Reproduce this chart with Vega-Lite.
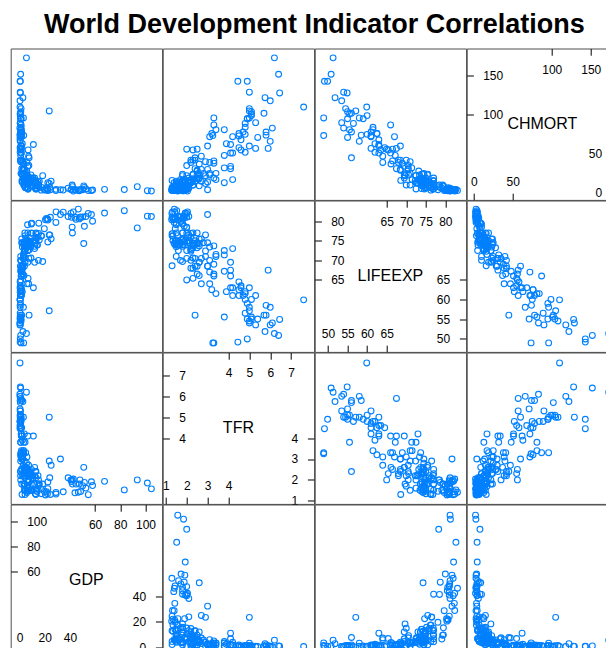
{
"$schema": "https://vega.github.io/schema/vega-lite/v6.json",
"padding": {"left": 9.7, "top": 10.5, "right": -9.5, "bottom": -4},
"title": {"text": "World Development Indicator Correlations", "anchor": "middle", "fontSize": 27, "font": "Liberation Sans", "fontWeight": "bold", "color": "#000", "offset": 8.5},
"config": {
  "view": {"stroke": "#4d4d4d", "strokeWidth": 1},
  "axis": {"labelFont": "Liberation Sans", "labelFontSize": 12, "labelColor": "#000", "tickColor": "#000", "tickWidth": 1, "domain": false, "grid": false, "labelFlush": false, "labelOverlap": false, "labelBound": false, "ticks": true, "title": null}
},
"datasets": {"wdi": [
{"country":"Angola","GDP":5.5,"TFR":6.2,"LIFEEXP":51.3,"CHMORT":173},
{"country":"Benin","GDP":0.8,"TFR":4.9,"LIFEEXP":59.0,"CHMORT":95},
{"country":"Botswana","GDP":7.2,"TFR":2.7,"LIFEEXP":64.0,"CHMORT":47},
{"country":"Burkina Faso","GDP":0.65,"TFR":5.7,"LIFEEXP":56.0,"CHMORT":102},
{"country":"Burundi","GDP":0.25,"TFR":6.1,"LIFEEXP":54.0,"CHMORT":83},
{"country":"Cameroon","GDP":1.2,"TFR":4.9,"LIFEEXP":55.0,"CHMORT":95},
{"country":"Cape Verde","GDP":3.5,"TFR":2.3,"LIFEEXP":74.0,"CHMORT":24},
{"country":"Central African Republic","GDP":0.5,"TFR":4.45,"LIFEEXP":49.1,"CHMORT":143},
{"country":"Chad","GDP":0.9,"TFR":6.4,"LIFEEXP":50.8,"CHMORT":152},
{"country":"Comoros","GDP":0.8,"TFR":4.7,"LIFEEXP":61.0,"CHMORT":78},
{"country":"Congo, Dem. Rep.","GDP":0.4,"TFR":6.0,"LIFEEXP":53.5,"CHMORT":118},
{"country":"Congo, Rep.","GDP":3.1,"TFR":5.0,"LIFEEXP":58.0,"CHMORT":96},
{"country":"Cote d'Ivoire","GDP":1.25,"TFR":5.0,"LIFEEXP":54.5,"CHMORT":108},
{"country":"Djibouti","GDP":1.5,"TFR":3.4,"LIFEEXP":61.5,"CHMORT":81},
{"country":"Equatorial Guinea","GDP":23.6,"TFR":5.0,"LIFEEXP":57.1,"CHMORT":105},
{"country":"Eritrea","GDP":0.5,"TFR":4.8,"LIFEEXP":62.0,"CHMORT":52},
{"country":"Ethiopia","GDP":0.45,"TFR":4.6,"LIFEEXP":63.0,"CHMORT":68},
{"country":"Gabon","GDP":11.0,"TFR":4.1,"LIFEEXP":63.0,"CHMORT":62},
{"country":"Gambia","GDP":0.5,"TFR":5.8,"LIFEEXP":58.5,"CHMORT":74},
{"country":"Ghana","GDP":1.6,"TFR":4.2,"LIFEEXP":61.0,"CHMORT":72},
{"country":"Guinea","GDP":0.5,"TFR":5.1,"LIFEEXP":55.5,"CHMORT":101},
{"country":"Guinea-Bissau","GDP":0.55,"TFR":5.0,"LIFEEXP":54.0,"CHMORT":129},
{"country":"Kenya","GDP":1.1,"TFR":4.5,"LIFEEXP":61.0,"CHMORT":73},
{"country":"Lesotho","GDP":1.2,"TFR":3.3,"LIFEEXP":48.9,"CHMORT":96},
{"country":"Liberia","GDP":0.4,"TFR":4.8,"LIFEEXP":60.0,"CHMORT":75},
{"country":"Madagascar","GDP":0.45,"TFR":4.5,"LIFEEXP":64.5,"CHMORT":58},
{"country":"Malawi","GDP":0.45,"TFR":5.4,"LIFEEXP":55.0,"CHMORT":71},
{"country":"Mali","GDP":0.7,"TFR":6.45,"LIFEEXP":54.9,"CHMORT":128},
{"country":"Mauritania","GDP":1.2,"TFR":4.8,"LIFEEXP":61.5,"CHMORT":84},
{"country":"Mauritius","GDP":9.0,"TFR":1.5,"LIFEEXP":73.5,"CHMORT":15},
{"country":"Mozambique","GDP":0.57,"TFR":5.3,"LIFEEXP":53.5,"CHMORT":90},
{"country":"Namibia","GDP":5.9,"TFR":3.1,"LIFEEXP":64.0,"CHMORT":39},
{"country":"Niger","GDP":0.4,"TFR":7.6,"LIFEEXP":59.9,"CHMORT":110},
{"country":"Nigeria","GDP":2.7,"TFR":5.75,"LIFEEXP":51.8,"CHMORT":122},
{"country":"Rwanda","GDP":0.62,"TFR":4.6,"LIFEEXP":63.5,"CHMORT":55},
{"country":"Sao Tome and Principe","GDP":1.4,"TFR":4.1,"LIFEEXP":66.0,"CHMORT":51},
{"country":"Senegal","GDP":1.05,"TFR":5.0,"LIFEEXP":63.0,"CHMORT":60},
{"country":"Seychelles","GDP":12.0,"TFR":2.2,"LIFEEXP":73.0,"CHMORT":13},
{"country":"Sierra Leone","GDP":0.6,"TFR":4.9,"LIFEEXP":49.9,"CHMORT":143},
{"country":"South Africa","GDP":7.6,"TFR":2.4,"LIFEEXP":56.0,"CHMORT":45},
{"country":"South Sudan","GDP":1.0,"TFR":5.1,"LIFEEXP":55.0,"CHMORT":104},
{"country":"Sudan","GDP":1.7,"TFR":4.5,"LIFEEXP":62.5,"CHMORT":76},
{"country":"Swaziland","GDP":3.3,"TFR":3.25,"LIFEEXP":48.9,"CHMORT":73.5},
{"country":"Tanzania","GDP":0.7,"TFR":5.3,"LIFEEXP":61.0,"CHMORT":57},
{"country":"Togo","GDP":0.55,"TFR":4.8,"LIFEEXP":56.5,"CHMORT":89},
{"country":"Uganda","GDP":0.6,"TFR":6.0,"LIFEEXP":58.0,"CHMORT":66},
{"country":"Zambia","GDP":1.7,"TFR":5.8,"LIFEEXP":56.0,"CHMORT":78},
{"country":"Zimbabwe","GDP":0.9,"TFR":3.8,"LIFEEXP":55.5,"CHMORT":81},
{"country":"Afghanistan","GDP":0.65,"TFR":5.1,"LIFEEXP":60.0,"CHMORT":99},
{"country":"Bangladesh","GDP":0.85,"TFR":2.2,"LIFEEXP":70.0,"CHMORT":42},
{"country":"Bhutan","GDP":2.5,"TFR":2.2,"LIFEEXP":68.0,"CHMORT":39},
{"country":"Cambodia","GDP":0.95,"TFR":2.9,"LIFEEXP":71.0,"CHMORT":40},
{"country":"China","GDP":6.1,"TFR":1.6,"LIFEEXP":75.0,"CHMORT":14},
{"country":"India","GDP":1.45,"TFR":2.5,"LIFEEXP":66.5,"CHMORT":56},
{"country":"Indonesia","GDP":3.7,"TFR":2.4,"LIFEEXP":70.5,"CHMORT":31},
{"country":"Japan","GDP":46.7,"TFR":1.41,"LIFEEXP":83.1,"CHMORT":3},
{"country":"Korea, Rep.","GDP":24.5,"TFR":1.3,"LIFEEXP":81.0,"CHMORT":4},
{"country":"Lao PDR","GDP":1.4,"TFR":3.1,"LIFEEXP":67.0,"CHMORT":72},
{"country":"Malaysia","GDP":10.4,"TFR":2.0,"LIFEEXP":74.8,"CHMORT":8.5},
{"country":"Maldives","GDP":6.6,"TFR":2.3,"LIFEEXP":77.0,"CHMORT":10},
{"country":"Mongolia","GDP":3.9,"TFR":2.5,"LIFEEXP":68.5,"CHMORT":29},
{"country":"Myanmar","GDP":1.0,"TFR":2.0,"LIFEEXP":65.0,"CHMORT":56},
{"country":"Nepal","GDP":0.7,"TFR":2.4,"LIFEEXP":68.5,"CHMORT":42},
{"country":"Pakistan","GDP":1.3,"TFR":3.3,"LIFEEXP":66.0,"CHMORT":87},
{"country":"Philippines","GDP":2.6,"TFR":3.0,"LIFEEXP":68.5,"CHMORT":30},
{"country":"Singapore","GDP":54.6,"TFR":1.29,"LIFEEXP":82.0,"CHMORT":2.9},
{"country":"Sri Lanka","GDP":3.35,"TFR":2.3,"LIFEEXP":74.3,"CHMORT":10},
{"country":"Thailand","GDP":5.9,"TFR":1.4,"LIFEEXP":74.3,"CHMORT":13},
{"country":"Timor-Leste","GDP":1.1,"TFR":5.9,"LIFEEXP":67.5,"CHMORT":57},
{"country":"Vietnam","GDP":1.75,"TFR":1.8,"LIFEEXP":75.5,"CHMORT":24},
{"country":"Brunei","GDP":41.8,"TFR":2.0,"LIFEEXP":78.5,"CHMORT":10},
{"country":"Papua New Guinea","GDP":2.2,"TFR":3.9,"LIFEEXP":62.0,"CHMORT":63},
{"country":"Fiji","GDP":4.4,"TFR":2.6,"LIFEEXP":69.5,"CHMORT":23},
{"country":"Solomon Islands","GDP":1.8,"TFR":4.1,"LIFEEXP":67.5,"CHMORT":31},
{"country":"Vanuatu","GDP":3.1,"TFR":3.4,"LIFEEXP":71.5,"CHMORT":17},
{"country":"Samoa","GDP":3.8,"TFR":4.2,"LIFEEXP":73.0,"CHMORT":17},
{"country":"Tonga","GDP":4.4,"TFR":3.8,"LIFEEXP":72.5,"CHMORT":13},
{"country":"Kiribati","GDP":1.7,"TFR":3.0,"LIFEEXP":68.5,"CHMORT":60},
{"country":"Micronesia","GDP":3.1,"TFR":3.3,"LIFEEXP":69.0,"CHMORT":38},
{"country":"Australia","GDP":67.5,"TFR":1.93,"LIFEEXP":82.1,"CHMORT":4.5},
{"country":"New Zealand","GDP":38.6,"TFR":2.1,"LIFEEXP":81.2,"CHMORT":6},
{"country":"Algeria","GDP":5.6,"TFR":2.8,"LIFEEXP":74.5,"CHMORT":25},
{"country":"Bahrain","GDP":24.0,"TFR":2.1,"LIFEEXP":76.5,"CHMORT":7},
{"country":"Egypt","GDP":3.2,"TFR":3.4,"LIFEEXP":71.0,"CHMORT":25},
{"country":"Iran","GDP":7.0,"TFR":1.9,"LIFEEXP":74.0,"CHMORT":17},
{"country":"Iraq","GDP":6.6,"TFR":4.1,"LIFEEXP":69.5,"CHMORT":34},
{"country":"Israel","GDP":32.5,"TFR":3.0,"LIFEEXP":81.7,"CHMORT":4},
{"country":"Jordan","GDP":4.9,"TFR":3.3,"LIFEEXP":73.7,"CHMORT":19},
{"country":"Kuwait","GDP":51.0,"TFR":2.6,"LIFEEXP":74.3,"CHMORT":9},
{"country":"Lebanon","GDP":9.7,"TFR":1.5,"LIFEEXP":79.5,"CHMORT":9},
{"country":"Libya","GDP":13.0,"TFR":2.4,"LIFEEXP":75.0,"CHMORT":15},
{"country":"Morocco","GDP":2.9,"TFR":2.7,"LIFEEXP":70.5,"CHMORT":30},
{"country":"Oman","GDP":23.6,"TFR":2.9,"LIFEEXP":76.5,"CHMORT":12},
{"country":"Qatar","GDP":93.5,"TFR":2.0,"LIFEEXP":78.3,"CHMORT":8},
{"country":"Saudi Arabia","GDP":25.1,"TFR":2.7,"LIFEEXP":75.5,"CHMORT":15},
{"country":"Syria","GDP":2.0,"TFR":3.0,"LIFEEXP":74.5,"CHMORT":14},
{"country":"Tunisia","GDP":4.2,"TFR":2.1,"LIFEEXP":74.5,"CHMORT":16},
{"country":"Turkey","GDP":10.6,"TFR":2.1,"LIFEEXP":75.0,"CHMORT":19},
{"country":"United Arab Emirates","GDP":42.0,"TFR":1.8,"LIFEEXP":77.0,"CHMORT":8},
{"country":"Yemen","GDP":1.3,"TFR":4.2,"LIFEEXP":63.0,"CHMORT":51},
{"country":"Albania","GDP":4.2,"TFR":1.8,"LIFEEXP":77.0,"CHMORT":15},
{"country":"Armenia","GDP":3.7,"TFR":1.7,"LIFEEXP":74.3,"CHMORT":17},
{"country":"Austria","GDP":48.5,"TFR":1.44,"LIFEEXP":81.0,"CHMORT":4},
{"country":"Azerbaijan","GDP":7.4,"TFR":2.0,"LIFEEXP":70.5,"CHMORT":35},
{"country":"Belarus","GDP":6.9,"TFR":1.6,"LIFEEXP":72.5,"CHMORT":5},
{"country":"Belgium","GDP":44.8,"TFR":1.8,"LIFEEXP":80.5,"CHMORT":4},
{"country":"Bosnia and Herzegovina","GDP":4.4,"TFR":1.3,"LIFEEXP":76.3,"CHMORT":7},
{"country":"Bulgaria","GDP":7.3,"TFR":1.5,"LIFEEXP":74.3,"CHMORT":12},
{"country":"Croatia","GDP":13.2,"TFR":1.5,"LIFEEXP":77.0,"CHMORT":5},
{"country":"Cyprus","GDP":28.9,"TFR":1.4,"LIFEEXP":79.7,"CHMORT":3},
{"country":"Czech Republic","GDP":19.7,"TFR":1.45,"LIFEEXP":78.1,"CHMORT":4},
{"country":"Denmark","GDP":58.0,"TFR":1.73,"LIFEEXP":80.0,"CHMORT":3.7},
{"country":"Estonia","GDP":17.3,"TFR":1.56,"LIFEEXP":76.3,"CHMORT":3.5},
{"country":"Finland","GDP":47.4,"TFR":1.8,"LIFEEXP":80.6,"CHMORT":2.8},
{"country":"France","GDP":40.8,"TFR":2.0,"LIFEEXP":82.0,"CHMORT":4.2},
{"country":"Georgia","GDP":3.5,"TFR":1.8,"LIFEEXP":74.0,"CHMORT":13},
{"country":"Germany","GDP":44.0,"TFR":1.38,"LIFEEXP":81.0,"CHMORT":4},
{"country":"Greece","GDP":22.2,"TFR":1.34,"LIFEEXP":80.6,"CHMORT":4.6},
{"country":"Hungary","GDP":12.6,"TFR":1.34,"LIFEEXP":75.0,"CHMORT":6},
{"country":"Iceland","GDP":42.7,"TFR":2.04,"LIFEEXP":82.4,"CHMORT":2.3},
{"country":"Ireland","GDP":48.0,"TFR":2.0,"LIFEEXP":81.0,"CHMORT":4.2},
{"country":"Italy","GDP":34.7,"TFR":1.43,"LIFEEXP":82.3,"CHMORT":3.6},
{"country":"Kazakhstan","GDP":12.0,"TFR":2.6,"LIFEEXP":69.5,"CHMORT":19},
{"country":"Kyrgyz Republic","GDP":1.2,"TFR":3.1,"LIFEEXP":70.0,"CHMORT":25},
{"country":"Latvia","GDP":14.0,"TFR":1.44,"LIFEEXP":74.0,"CHMORT":9},
{"country":"Lithuania","GDP":14.2,"TFR":1.6,"LIFEEXP":73.9,"CHMORT":5.5},
{"country":"Luxembourg","GDP":104.7,"TFR":1.57,"LIFEEXP":81.2,"CHMORT":2.3},
{"country":"Macedonia","GDP":4.7,"TFR":1.5,"LIFEEXP":75.0,"CHMORT":7},
{"country":"Malta","GDP":21.4,"TFR":1.43,"LIFEEXP":80.7,"CHMORT":6.5},
{"country":"Moldova","GDP":2.0,"TFR":1.3,"LIFEEXP":68.6,"CHMORT":16},
{"country":"Montenegro","GDP":6.6,"TFR":1.7,"LIFEEXP":74.6,"CHMORT":5},
{"country":"Netherlands","GDP":50.1,"TFR":1.72,"LIFEEXP":81.1,"CHMORT":4},
{"country":"Norway","GDP":101.5,"TFR":1.85,"LIFEEXP":81.3,"CHMORT":2.8},
{"country":"Poland","GDP":13.0,"TFR":1.3,"LIFEEXP":76.8,"CHMORT":5},
{"country":"Portugal","GDP":20.6,"TFR":1.28,"LIFEEXP":80.4,"CHMORT":3.7},
{"country":"Romania","GDP":8.4,"TFR":1.5,"LIFEEXP":74.5,"CHMORT":12},
{"country":"Russian Federation","GDP":15.0,"TFR":1.7,"LIFEEXP":70.0,"CHMORT":10},
{"country":"Serbia","GDP":5.7,"TFR":1.45,"LIFEEXP":74.9,"CHMORT":7},
{"country":"Slovak Republic","GDP":17.5,"TFR":1.34,"LIFEEXP":76.2,"CHMORT":7},
{"country":"Slovenia","GDP":22.5,"TFR":1.58,"LIFEEXP":80.3,"CHMORT":3},
{"country":"Spain","GDP":29.0,"TFR":1.32,"LIFEEXP":82.4,"CHMORT":4.5},
{"country":"Sweden","GDP":57.1,"TFR":1.91,"LIFEEXP":81.7,"CHMORT":3},
{"country":"Switzerland","GDP":83.2,"TFR":1.52,"LIFEEXP":82.7,"CHMORT":4.3},
{"country":"Tajikistan","GDP":0.95,"TFR":3.8,"LIFEEXP":67.2,"CHMORT":48},
{"country":"Turkmenistan","GDP":6.8,"TFR":2.3,"LIFEEXP":65.4,"CHMORT":55},
{"country":"Ukraine","GDP":3.9,"TFR":1.5,"LIFEEXP":71.0,"CHMORT":10},
{"country":"United Kingdom","GDP":41.3,"TFR":1.92,"LIFEEXP":81.0,"CHMORT":4.8},
{"country":"Uzbekistan","GDP":1.7,"TFR":2.3,"LIFEEXP":68.0,"CHMORT":42},
{"country":"Argentina","GDP":14.7,"TFR":2.2,"LIFEEXP":75.9,"CHMORT":14},
{"country":"Bahamas","GDP":22.5,"TFR":1.9,"LIFEEXP":74.7,"CHMORT":13},
{"country":"Barbados","GDP":15.7,"TFR":1.8,"LIFEEXP":75.2,"CHMORT":15},
{"country":"Belize","GDP":4.7,"TFR":2.6,"LIFEEXP":73.7,"CHMORT":18},
{"country":"Bolivia","GDP":2.6,"TFR":3.3,"LIFEEXP":66.5,"CHMORT":41},
{"country":"Brazil","GDP":12.0,"TFR":1.8,"LIFEEXP":73.6,"CHMORT":16},
{"country":"Canada","GDP":52.7,"TFR":1.61,"LIFEEXP":81.2,"CHMORT":5},
{"country":"Chile","GDP":15.3,"TFR":1.8,"LIFEEXP":79.5,"CHMORT":8},
{"country":"Colombia","GDP":7.9,"TFR":2.3,"LIFEEXP":73.8,"CHMORT":18},
{"country":"Costa Rica","GDP":9.4,"TFR":1.8,"LIFEEXP":79.3,"CHMORT":10},
{"country":"Cuba","GDP":6.4,"TFR":1.5,"LIFEEXP":79.1,"CHMORT":6},
{"country":"Dominican Republic","GDP":5.7,"TFR":2.5,"LIFEEXP":73.2,"CHMORT":28},
{"country":"Ecuador","GDP":5.6,"TFR":2.6,"LIFEEXP":75.4,"CHMORT":23},
{"country":"El Salvador","GDP":3.8,"TFR":2.2,"LIFEEXP":72.3,"CHMORT":16},
{"country":"Guatemala","GDP":3.2,"TFR":3.8,"LIFEEXP":71.4,"CHMORT":32},
{"country":"Guyana","GDP":3.6,"TFR":2.6,"LIFEEXP":66.1,"CHMORT":37},
{"country":"Haiti","GDP":0.8,"TFR":3.2,"LIFEEXP":62.5,"CHMORT":76},
{"country":"Honduras","GDP":2.3,"TFR":3.1,"LIFEEXP":73.4,"CHMORT":23},
{"country":"Jamaica","GDP":5.4,"TFR":2.3,"LIFEEXP":73.2,"CHMORT":17},
{"country":"Mexico","GDP":9.7,"TFR":2.2,"LIFEEXP":76.9,"CHMORT":16},
{"country":"Nicaragua","GDP":1.8,"TFR":2.5,"LIFEEXP":74.5,"CHMORT":24},
{"country":"Panama","GDP":9.5,"TFR":2.5,"LIFEEXP":77.0,"CHMORT":19},
{"country":"Paraguay","GDP":3.8,"TFR":2.9,"LIFEEXP":72.4,"CHMORT":22},
{"country":"Peru","GDP":6.4,"TFR":2.5,"LIFEEXP":74.2,"CHMORT":18},
{"country":"Suriname","GDP":9.1,"TFR":2.3,"LIFEEXP":70.6,"CHMORT":23},
{"country":"Trinidad and Tobago","GDP":18.4,"TFR":1.8,"LIFEEXP":69.7,"CHMORT":22},
{"country":"United States","GDP":51.5,"TFR":1.88,"LIFEEXP":78.7,"CHMORT":7},
{"country":"Uruguay","GDP":15.1,"TFR":2.0,"LIFEEXP":76.9,"CHMORT":11},
{"country":"Venezuela","GDP":12.7,"TFR":2.4,"LIFEEXP":74.4,"CHMORT":15},
{"country":"St. Lucia","GDP":7.3,"TFR":1.9,"LIFEEXP":74.9,"CHMORT":15},
{"country":"Grenada","GDP":7.7,"TFR":2.2,"LIFEEXP":72.7,"CHMORT":13},
{"country":"St. Vincent and the Grenadines","GDP":6.5,"TFR":2.0,"LIFEEXP":72.5,"CHMORT":22},
{"country":"Antigua and Barbuda","GDP":13.0,"TFR":2.1,"LIFEEXP":75.8,"CHMORT":9}
]},
"columns": 4,
"spacing": 0,
"bounds": "flush",
"concat": [
 {"width":151.4,"height":151.4,"data":{"name":"wdi"},"mark":{"type":"point","shape":"circle","filled":false,"color":"#0080ff","size":34,"strokeWidth":1.1,"opacity":1,"clip":true},"encoding":{"x":{"field":"GDP","type":"quantitative","scale":{"domain":[-7,113.2],"nice":false,"zero":false},"axis":null},"y":{"field":"CHMORT","type":"quantitative","scale":{"domain":[-9,185],"nice":false,"zero":false},"axis":null}}},
 {"width":151.4,"height":151.4,"data":{"name":"wdi"},"mark":{"type":"point","shape":"circle","filled":false,"color":"#0080ff","size":34,"strokeWidth":1.1,"opacity":1,"clip":true},"encoding":{"x":{"field":"TFR","type":"quantitative","scale":{"domain":[0.85,8.1],"nice":false,"zero":false},"axis":null},"y":{"field":"CHMORT","type":"quantitative","scale":{"domain":[-9,185],"nice":false,"zero":false},"axis":null}}},
 {"width":151.4,"height":151.4,"data":{"name":"wdi"},"mark":{"type":"point","shape":"circle","filled":false,"color":"#0080ff","size":34,"strokeWidth":1.1,"opacity":1,"clip":true},"encoding":{"x":{"field":"LIFEEXP","type":"quantitative","scale":{"domain":[46.6,85.3],"nice":false,"zero":false},"axis":null},"y":{"field":"CHMORT","type":"quantitative","scale":{"domain":[-9,185],"nice":false,"zero":false},"axis":null}}},
 {"width":151.4,"height":151.4,"data":{"name":"wdi"},"layer":[
   {"mark":{"type":"point","opacity":0},"encoding":{"x":{"field":"CHMORT","type":"quantitative","scale":{"domain":[-9,185],"nice":false,"zero":false},"axis":{"orient":"bottom","values":[0,50],"offset":-6.7,"tickSize":6.7,"labelPadding":-14,"labelBaseline":"alphabetic","labelAlign":"center"}},"y":{"field":"CHMORT","type":"quantitative","scale":{"domain":[-9,185],"nice":false,"zero":false},"axis":{"orient":"right","values":[0,50],"offset":-6.7,"tickSize":6.7,"labelPadding":-16.5,"labelAlign":"right","labelBaseline":"middle"}}}},
   {"mark":{"type":"point","opacity":0},"encoding":{"x":{"field":"CHMORT","type":"quantitative","scale":{"domain":[-9,185],"nice":false,"zero":false},"axis":{"orient":"top","values":[100,150],"offset":-6.7,"tickSize":6.7,"labelPadding":-24.5,"labelBaseline":"alphabetic","labelAlign":"center"}},"y":{"field":"CHMORT","type":"quantitative","scale":{"domain":[-9,185],"nice":false,"zero":false},"axis":{"orient":"left","values":[100,150],"offset":-6.7,"tickSize":6.7,"labelPadding":-16,"labelAlign":"left","labelBaseline":"middle"}}}},
   {"data":{"values":[{"v":"CHMORT"}]},"mark":{"type":"text","fontSize":16,"font":"Liberation Sans","color":"#000"},"encoding":{"text":{"field":"v","type":"nominal"}}}
 ],"resolve":{"axis":{"x":"independent","y":"independent"}}},
 {"width":151.4,"height":151.4,"data":{"name":"wdi"},"mark":{"type":"point","shape":"circle","filled":false,"color":"#0080ff","size":34,"strokeWidth":1.1,"opacity":1,"clip":true},"encoding":{"x":{"field":"GDP","type":"quantitative","scale":{"domain":[-7,113.2],"nice":false,"zero":false},"axis":null},"y":{"field":"LIFEEXP","type":"quantitative","scale":{"domain":[46.6,85.3],"nice":false,"zero":false},"axis":null}}},
 {"width":151.4,"height":151.4,"data":{"name":"wdi"},"mark":{"type":"point","shape":"circle","filled":false,"color":"#0080ff","size":34,"strokeWidth":1.1,"opacity":1,"clip":true},"encoding":{"x":{"field":"TFR","type":"quantitative","scale":{"domain":[0.85,8.1],"nice":false,"zero":false},"axis":null},"y":{"field":"LIFEEXP","type":"quantitative","scale":{"domain":[46.6,85.3],"nice":false,"zero":false},"axis":null}}},
 {"width":151.4,"height":151.4,"data":{"name":"wdi"},"layer":[
   {"mark":{"type":"point","opacity":0},"encoding":{"x":{"field":"LIFEEXP","type":"quantitative","scale":{"domain":[46.6,85.3],"nice":false,"zero":false},"axis":{"orient":"bottom","values":[50,55,60,65],"offset":-6.7,"tickSize":6.7,"labelPadding":-14,"labelBaseline":"alphabetic","labelAlign":"center"}},"y":{"field":"LIFEEXP","type":"quantitative","scale":{"domain":[46.6,85.3],"nice":false,"zero":false},"axis":{"orient":"right","values":[50,55,60,65],"offset":-6.7,"tickSize":6.7,"labelPadding":-16.5,"labelAlign":"right","labelBaseline":"middle"}}}},
   {"mark":{"type":"point","opacity":0},"encoding":{"x":{"field":"LIFEEXP","type":"quantitative","scale":{"domain":[46.6,85.3],"nice":false,"zero":false},"axis":{"orient":"top","values":[65,70,75,80],"offset":-6.7,"tickSize":6.7,"labelPadding":-24.5,"labelBaseline":"alphabetic","labelAlign":"center"}},"y":{"field":"LIFEEXP","type":"quantitative","scale":{"domain":[46.6,85.3],"nice":false,"zero":false},"axis":{"orient":"left","values":[65,70,75,80],"offset":-6.7,"tickSize":6.7,"labelPadding":-16,"labelAlign":"left","labelBaseline":"middle"}}}},
   {"data":{"values":[{"v":"LIFEEXP"}]},"mark":{"type":"text","fontSize":16,"font":"Liberation Sans","color":"#000"},"encoding":{"text":{"field":"v","type":"nominal"}}}
 ],"resolve":{"axis":{"x":"independent","y":"independent"}}},
 {"width":151.4,"height":151.4,"data":{"name":"wdi"},"mark":{"type":"point","shape":"circle","filled":false,"color":"#0080ff","size":34,"strokeWidth":1.1,"opacity":1,"clip":true},"encoding":{"x":{"field":"CHMORT","type":"quantitative","scale":{"domain":[-9,185],"nice":false,"zero":false},"axis":null},"y":{"field":"LIFEEXP","type":"quantitative","scale":{"domain":[46.6,85.3],"nice":false,"zero":false},"axis":null}}},
 {"width":151.4,"height":151.4,"data":{"name":"wdi"},"mark":{"type":"point","shape":"circle","filled":false,"color":"#0080ff","size":34,"strokeWidth":1.1,"opacity":1,"clip":true},"encoding":{"x":{"field":"GDP","type":"quantitative","scale":{"domain":[-7,113.2],"nice":false,"zero":false},"axis":null},"y":{"field":"TFR","type":"quantitative","scale":{"domain":[0.85,8.1],"nice":false,"zero":false},"axis":null}}},
 {"width":151.4,"height":151.4,"data":{"name":"wdi"},"layer":[
   {"mark":{"type":"point","opacity":0},"encoding":{"x":{"field":"TFR","type":"quantitative","scale":{"domain":[0.85,8.1],"nice":false,"zero":false},"axis":{"orient":"bottom","values":[1,2,3,4],"offset":-6.7,"tickSize":6.7,"labelPadding":-14,"labelBaseline":"alphabetic","labelAlign":"center"}},"y":{"field":"TFR","type":"quantitative","scale":{"domain":[0.85,8.1],"nice":false,"zero":false},"axis":{"orient":"right","values":[1,2,3,4],"offset":-6.7,"tickSize":6.7,"labelPadding":-16.5,"labelAlign":"right","labelBaseline":"middle"}}}},
   {"mark":{"type":"point","opacity":0},"encoding":{"x":{"field":"TFR","type":"quantitative","scale":{"domain":[0.85,8.1],"nice":false,"zero":false},"axis":{"orient":"top","values":[4,5,6,7],"offset":-6.7,"tickSize":6.7,"labelPadding":-24.5,"labelBaseline":"alphabetic","labelAlign":"center"}},"y":{"field":"TFR","type":"quantitative","scale":{"domain":[0.85,8.1],"nice":false,"zero":false},"axis":{"orient":"left","values":[4,5,6,7],"offset":-6.7,"tickSize":6.7,"labelPadding":-16,"labelAlign":"left","labelBaseline":"middle"}}}},
   {"data":{"values":[{"v":"TFR"}]},"mark":{"type":"text","fontSize":16,"font":"Liberation Sans","color":"#000"},"encoding":{"text":{"field":"v","type":"nominal"}}}
 ],"resolve":{"axis":{"x":"independent","y":"independent"}}},
 {"width":151.4,"height":151.4,"data":{"name":"wdi"},"mark":{"type":"point","shape":"circle","filled":false,"color":"#0080ff","size":34,"strokeWidth":1.1,"opacity":1,"clip":true},"encoding":{"x":{"field":"LIFEEXP","type":"quantitative","scale":{"domain":[46.6,85.3],"nice":false,"zero":false},"axis":null},"y":{"field":"TFR","type":"quantitative","scale":{"domain":[0.85,8.1],"nice":false,"zero":false},"axis":null}}},
 {"width":151.4,"height":151.4,"data":{"name":"wdi"},"mark":{"type":"point","shape":"circle","filled":false,"color":"#0080ff","size":34,"strokeWidth":1.1,"opacity":1,"clip":true},"encoding":{"x":{"field":"CHMORT","type":"quantitative","scale":{"domain":[-9,185],"nice":false,"zero":false},"axis":null},"y":{"field":"TFR","type":"quantitative","scale":{"domain":[0.85,8.1],"nice":false,"zero":false},"axis":null}}},
 {"width":151.4,"height":151.4,"data":{"name":"wdi"},"layer":[
   {"mark":{"type":"point","opacity":0},"encoding":{"x":{"field":"GDP","type":"quantitative","scale":{"domain":[-7,113.2],"nice":false,"zero":false},"axis":{"orient":"bottom","values":[0,20,40],"offset":-6.7,"tickSize":6.7,"labelPadding":-14,"labelBaseline":"alphabetic","labelAlign":"center"}},"y":{"field":"GDP","type":"quantitative","scale":{"domain":[-7,113.2],"nice":false,"zero":false},"axis":{"orient":"right","values":[0,20,40],"offset":-6.7,"tickSize":6.7,"labelPadding":-16.5,"labelAlign":"right","labelBaseline":"middle"}}}},
   {"mark":{"type":"point","opacity":0},"encoding":{"x":{"field":"GDP","type":"quantitative","scale":{"domain":[-7,113.2],"nice":false,"zero":false},"axis":{"orient":"top","values":[60,80,100],"offset":-6.7,"tickSize":6.7,"labelPadding":-24.5,"labelBaseline":"alphabetic","labelAlign":"center"}},"y":{"field":"GDP","type":"quantitative","scale":{"domain":[-7,113.2],"nice":false,"zero":false},"axis":{"orient":"left","values":[60,80,100],"offset":-6.7,"tickSize":6.7,"labelPadding":-16,"labelAlign":"left","labelBaseline":"middle"}}}},
   {"data":{"values":[{"v":"GDP"}]},"mark":{"type":"text","fontSize":16,"font":"Liberation Sans","color":"#000"},"encoding":{"text":{"field":"v","type":"nominal"}}}
 ],"resolve":{"axis":{"x":"independent","y":"independent"}}},
 {"width":151.4,"height":151.4,"data":{"name":"wdi"},"mark":{"type":"point","shape":"circle","filled":false,"color":"#0080ff","size":34,"strokeWidth":1.1,"opacity":1,"clip":true},"encoding":{"x":{"field":"TFR","type":"quantitative","scale":{"domain":[0.85,8.1],"nice":false,"zero":false},"axis":null},"y":{"field":"GDP","type":"quantitative","scale":{"domain":[-7,113.2],"nice":false,"zero":false},"axis":null}}},
 {"width":151.4,"height":151.4,"data":{"name":"wdi"},"mark":{"type":"point","shape":"circle","filled":false,"color":"#0080ff","size":34,"strokeWidth":1.1,"opacity":1,"clip":true},"encoding":{"x":{"field":"LIFEEXP","type":"quantitative","scale":{"domain":[46.6,85.3],"nice":false,"zero":false},"axis":null},"y":{"field":"GDP","type":"quantitative","scale":{"domain":[-7,113.2],"nice":false,"zero":false},"axis":null}}},
 {"width":151.4,"height":151.4,"data":{"name":"wdi"},"mark":{"type":"point","shape":"circle","filled":false,"color":"#0080ff","size":34,"strokeWidth":1.1,"opacity":1,"clip":true},"encoding":{"x":{"field":"CHMORT","type":"quantitative","scale":{"domain":[-9,185],"nice":false,"zero":false},"axis":null},"y":{"field":"GDP","type":"quantitative","scale":{"domain":[-7,113.2],"nice":false,"zero":false},"axis":null}}}
]
}
